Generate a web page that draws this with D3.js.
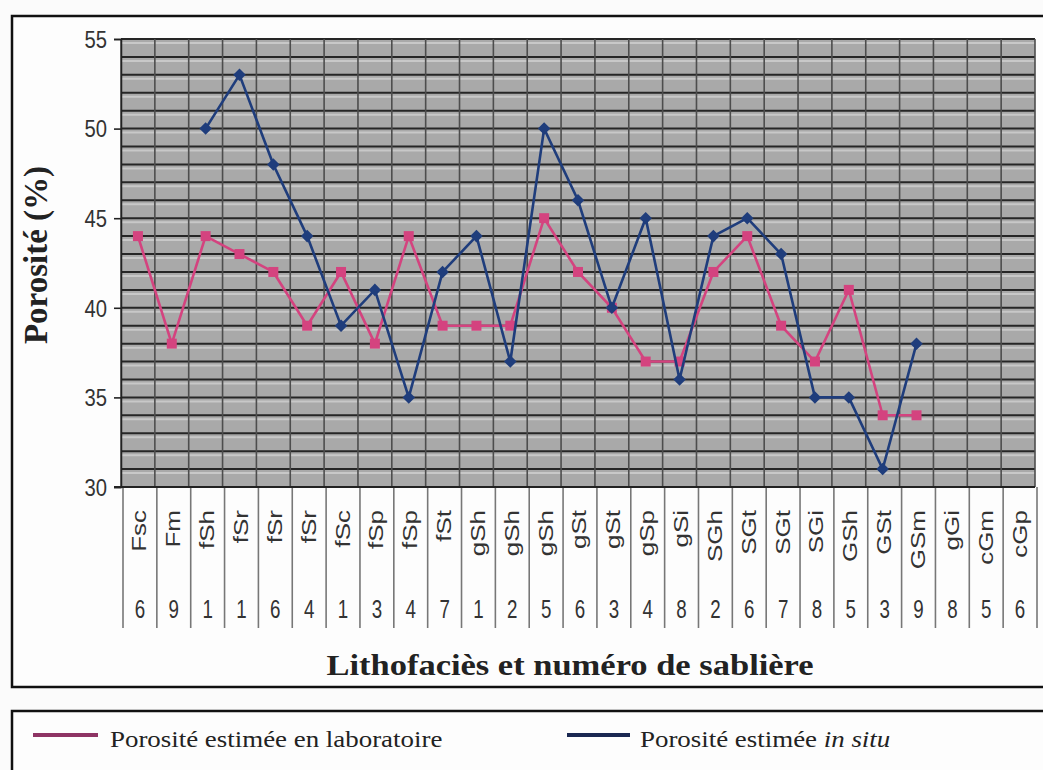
<!DOCTYPE html>
<html><head><meta charset="utf-8">
<script src="https://cdn.jsdelivr.net/npm/d3@7"></script>
<style>
html,body{margin:0;padding:0;background:#fbfbfb;}
svg{display:block;}
</style></head>
<body>
<svg id="chart" width="1043" height="770"></svg>
<script>
// ---- data ----
const categories = ["Fsc","Fm","fSh","fSr","fSr","fSr","fSc","fSp","fSp","fSt","gSh","gSh","gSh","gSt","gSt","gSp","gSi","SGh","SGt","SGt","SGi","GSh","GSt","GSm","gGi","cGm","cGp"];
const sandpits = ["6","9","1","1","6","4","1","3","4","7","1","2","5","6","3","4","8","2","6","7","8","5","3","9","8","5","6"];
const labValues = [44,38,44,43,42,39,42,38,44,39,39,39,45,42,40,37,37,42,44,39,37,41,34,34,null,null,null];
const inSituValues = [null,null,50,53,48,44,39,41,35,42,44,37,50,46,40,45,36,44,45,43,35,35,31,38,null,null,null];
const yTicks = [30,35,40,45,50,55];
const legendLabels = ["Porosité estimée en laboratoire","Porosité estimée "];

// ---- layout ----
const svg = d3.select("#chart");
const L = 121, R = 1035, T = 39, B = 487;
const pink = "#d4437f", blue = "#1f3d7c";

const x = d3.scaleBand().domain(d3.range(categories.length)).range([L, R]).padding(0);
const xb = d3.scaleLinear().domain([0, categories.length]).range([L, R]);
const y = d3.scaleLinear().domain([30, 55]).range([B, T]);

// outer chart box
svg.append("rect").attr("x",12).attr("y",16).attr("width",1040).attr("height",671)
  .attr("fill","#fdfdfd").attr("stroke","#111").attr("stroke-width",2.5);
// legend box
svg.append("rect").attr("x",12).attr("y",711).attr("width",1040).attr("height",80)
  .attr("fill","#fdfdfd").attr("stroke","#111").attr("stroke-width",2.5);

// plot background
svg.append("rect").attr("x",L).attr("y",T).attr("width",R-L).attr("height",B-T).attr("fill","#a9a9a9");

// horizontal grid (each unit) with light highlight stripes
const hVals = d3.range(30, 56, 1);
svg.append("g").selectAll("line.hl").data(hVals.filter(v=>v>30)).join("line")
  .attr("x1",L).attr("x2",R).attr("y1",d=>y(d)+4).attr("y2",d=>y(d)+4)
  .attr("stroke","#c8c8c8").attr("stroke-width",2);
svg.append("g").selectAll("line.h").data(hVals).join("line")
  .attr("x1",L).attr("x2",R).attr("y1",d=>y(d)).attr("y2",d=>y(d))
  .attr("stroke","#262626").attr("stroke-width",2);
// vertical grid
svg.append("g").selectAll("line").data(d3.range(categories.length+1)).join("line")
  .attr("x1",d=>xb(d)).attr("x2",d=>xb(d)).attr("y1",T).attr("y2",B)
  .attr("stroke","#4d4d4d").attr("stroke-width",1.6);

// y axis
const yAxis = svg.append("g").attr("transform",`translate(${L},0)`)
  .call(d3.axisLeft(y).tickValues(yTicks).tickSize(7).tickPadding(8));
yAxis.select(".domain").attr("stroke","#222").attr("stroke-width",1.5);
yAxis.selectAll(".tick line").attr("stroke","#222").attr("stroke-width",1.6);
yAxis.selectAll(".tick text").attr("font-family","Liberation Sans, Arial, sans-serif")
  .attr("font-size",23).attr("fill","#333").attr("dy","0.36em")
  .attr("transform","scale(0.88,1)").attr("x",-16);

// x axis band separators under plot
svg.append("g").selectAll("line").data(d3.range(categories.length+1)).join("line")
  .attr("x1",d=>xb(d)+2).attr("x2",d=>xb(d)+2).attr("y1",B).attr("y2",628)
  .attr("stroke","#777").attr("stroke-width",1.6);
svg.append("line").attr("x1",L-7).attr("x2",R).attr("y1",B).attr("y2",B)
  .attr("stroke","#222").attr("stroke-width",2.2);

// category labels (rotated)
svg.append("g").selectAll("text").data(categories).join("text")
  .attr("transform",(d,i)=>`translate(${x(i)+x.bandwidth()/2+1},510) rotate(-90) scale(1,0.8)`)
  .attr("text-anchor","end").attr("dy","0.36em")
  .attr("font-family","Liberation Sans, Arial, sans-serif").attr("font-size",26).attr("fill","#333")
  .text(d=>d);
// sandpit numbers
svg.append("g").selectAll("text").data(sandpits).join("text")
  .attr("transform",(d,i)=>`translate(${x(i)+x.bandwidth()/2+2},618) scale(0.75,1)`)
  .attr("text-anchor","middle")
  .attr("font-family","Liberation Sans, Arial, sans-serif").attr("font-size",25).attr("fill","#333")
  .text(d=>d);

// axis titles
svg.append("text").attr("transform","translate(570,675) scale(1.15,1)")
  .attr("text-anchor","middle").attr("font-family","Liberation Serif, Times New Roman, serif")
  .attr("font-weight","bold").attr("font-size",30).attr("fill","#222")
  .text("Lithofaciès et numéro de sablière");
svg.append("text").attr("transform","translate(47,255) rotate(-90)")
  .attr("text-anchor","middle").attr("font-family","Liberation Serif, Times New Roman, serif")
  .attr("font-weight","bold").attr("font-size",33).attr("fill","#222")
  .text("Porosité (%)");

// series lines
const line = d3.line().defined(d=>d.v!==null).x(d=>x(d.i)+x.bandwidth()/2).y(d=>y(d.v));
const labData = labValues.map((v,i)=>({i,v}));
const situData = inSituValues.map((v,i)=>({i,v}));

svg.append("path").datum(labData).attr("d",line).attr("fill","none")
  .attr("stroke",pink).attr("stroke-width",2.6);
svg.append("g").selectAll("rect").data(labData.filter(d=>d.v!==null)).join("rect")
  .attr("x",d=>x(d.i)+x.bandwidth()/2-5).attr("y",d=>y(d.v)-5)
  .attr("width",10).attr("height",10).attr("fill",pink);

svg.append("path").datum(situData).attr("d",line).attr("fill","none")
  .attr("stroke",blue).attr("stroke-width",2.6);
svg.append("g").selectAll("path").data(situData.filter(d=>d.v!==null)).join("path")
  .attr("d",d3.symbol(d3.symbolDiamond2, 100))
  .attr("transform",d=>`translate(${x(d.i)+x.bandwidth()/2},${y(d.v)})`)
  .attr("fill",blue);

// legend
svg.append("line").attr("x1",33).attr("x2",98).attr("y1",735).attr("y2",735)
  .attr("stroke","#8e3464").attr("stroke-width",4);
svg.append("text").attr("transform","translate(110,747) scale(1.17,1)")
  .attr("font-family","Liberation Serif, Times New Roman, serif").attr("font-size",23).attr("fill","#222")
  .text(legendLabels[0]);
svg.append("line").attr("x1",567).attr("x2",630).attr("y1",735).attr("y2",735)
  .attr("stroke","#1a2852").attr("stroke-width",4);
const t2 = svg.append("text").attr("transform","translate(640,747) scale(1.17,1)")
  .attr("font-family","Liberation Serif, Times New Roman, serif").attr("font-size",23).attr("fill","#222");
t2.append("tspan").text(legendLabels[1]);
t2.append("tspan").attr("font-style","italic").text("in situ");
</script>
</body></html>
